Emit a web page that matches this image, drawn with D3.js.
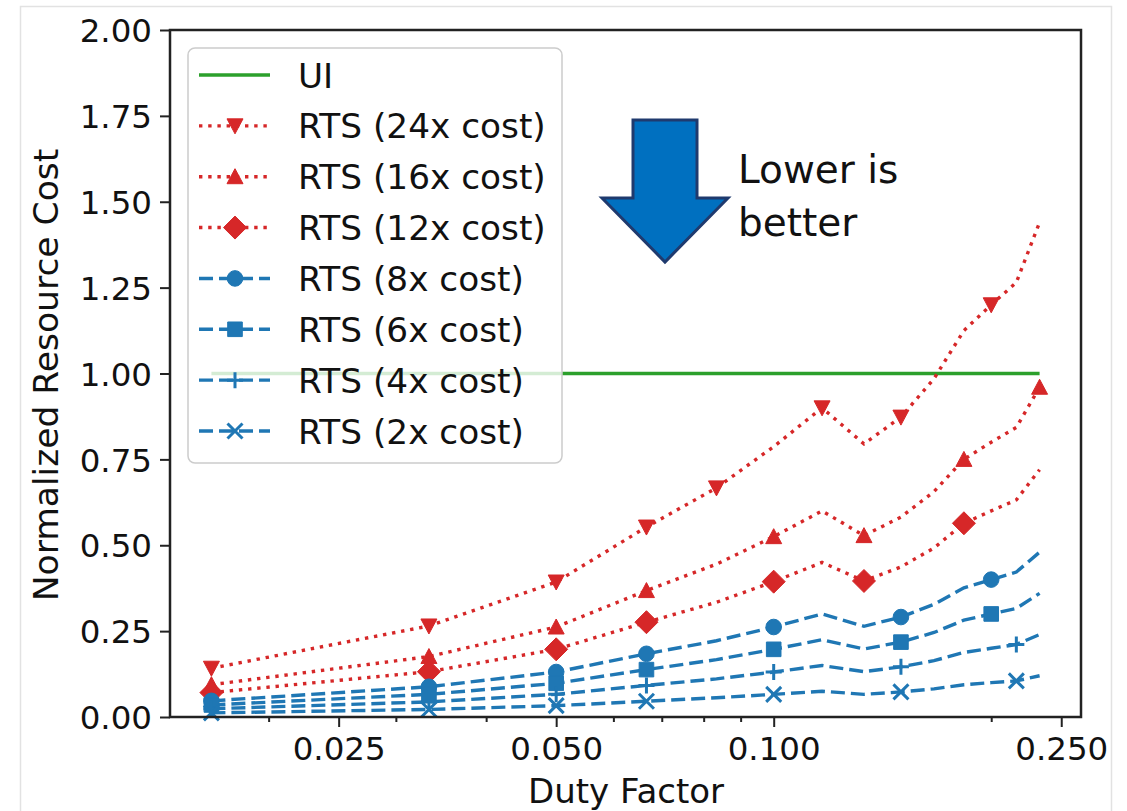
<!DOCTYPE html>
<html>
<head>
<meta charset="utf-8">
<script src="https://cdn.jsdelivr.net/npm/d3@7"></script>
<style>
  html, body { margin: 0; padding: 0; background: #ffffff; }
  svg { display: block; }
  text { font-family: "DejaVu Sans", sans-serif; fill: #111; }
</style>
</head>
<body>
<svg id="chart" width="1127" height="811"></svg>
<script>
// Duty factors sampled (k/60 for k = 1..14)
const dutyFactor = [1/60, 2/60, 3/60, 4/60, 5/60, 6/60, 7/60, 8/60, 9/60, 10/60, 11/60, 12/60, 13/60, 14/60];

// Normalized resource cost per configuration
const ui      = [1, 1, 1, 1, 1, 1, 1, 1, 1, 1, 1, 1, 1, 1];
const rts24x  = [0.142, 0.265, 0.393, 0.553, 0.667, 0.787, 0.900, 0.795, 0.873, 0.985, 1.125, 1.200, 1.265, 1.440];
const rts16x  = [0.094, 0.176, 0.262, 0.368, 0.445, 0.525, 0.600, 0.528, 0.582, 0.656, 0.750, 0.800, 0.843, 0.960];
const rts12x  = [0.071, 0.132, 0.197, 0.276, 0.334, 0.394, 0.450, 0.396, 0.437, 0.492, 0.564, 0.600, 0.632, 0.720];
const rts8x   = [0.047, 0.088, 0.131, 0.184, 0.222, 0.262, 0.300, 0.264, 0.291, 0.328, 0.376, 0.400, 0.422, 0.480];
const rts6x   = [0.035, 0.066, 0.098, 0.138, 0.167, 0.197, 0.225, 0.198, 0.218, 0.246, 0.282, 0.300, 0.316, 0.360];
const rts4x   = [0.024, 0.044, 0.066, 0.092, 0.111, 0.131, 0.150, 0.132, 0.146, 0.164, 0.188, 0.200, 0.211, 0.240];
const rts2x   = [0.012, 0.022, 0.033, 0.046, 0.056, 0.066, 0.075, 0.066, 0.073, 0.082, 0.094, 0.100, 0.105, 0.120];

// Indices of points that carry a marker
const marks24x = [0, 1, 2, 3, 4, 6, 8, 11];
const marks16x = [0, 1, 2, 3, 5, 7, 10, 13];
const marks12x = [0, 1, 2, 3, 5, 7, 10];
const marks8x  = [0, 1, 2, 3, 5, 8, 11];
const marks6x  = [0, 1, 2, 3, 5, 8, 11];
const marks4x  = [0, 1, 2, 3, 5, 8, 12];
const marks2x  = [0, 1, 2, 3, 5, 8, 12];

const seriesNames = ["UI", "RTS (24x cost)", "RTS (16x cost)", "RTS (12x cost)", "RTS (8x cost)", "RTS (6x cost)", "RTS (4x cost)", "RTS (2x cost)"];

// Axis ticks
const xTickValues = [0.025, 0.05, 0.1, 0.25];
const xTickLabels = ["0.025", "0.050", "0.100", "0.250"];
const xMinorTicks = [0.02, 0.03, 0.04, 0.06, 0.07, 0.08, 0.09, 0.2];
const yTickValues = [0, 0.25, 0.5, 0.75, 1.0, 1.25, 1.5, 1.75, 2.0];

const RED = "#d62728", BLUE = "#1f77b4", GREEN = "#2ca02c";
const DOT = "3.4,5.8", DASH = "14,6";

const series = [
  { name: seriesNames[0], values: ui,     marks: [],       color: GREEN, dash: null, marker: null },
  { name: seriesNames[1], values: rts24x, marks: marks24x, color: RED,   dash: DOT,  marker: "tridown" },
  { name: seriesNames[2], values: rts16x, marks: marks16x, color: RED,   dash: DOT,  marker: "triup" },
  { name: seriesNames[3], values: rts12x, marks: marks12x, color: RED,   dash: DOT,  marker: "diamond" },
  { name: seriesNames[4], values: rts8x,  marks: marks8x,  color: BLUE,  dash: DASH, marker: "circle" },
  { name: seriesNames[5], values: rts6x,  marks: marks6x,  color: BLUE,  dash: DASH, marker: "square" },
  { name: seriesNames[6], values: rts4x,  marks: marks4x,  color: BLUE,  dash: DASH, marker: "plus" },
  { name: seriesNames[7], values: rts2x,  marks: marks2x,  color: BLUE,  dash: DASH, marker: "cross" }
];

const svg = d3.select("#chart");

// Light outer frame
svg.append("rect").attr("x", 20.5).attr("y", 6.5).attr("width", 1091).attr("height", 820)
  .attr("fill", "none").attr("stroke", "#e2e2e2").attr("stroke-width", 1.5);

const plot = { left: 170, right: 1081, top: 30, bottom: 717 };

// Log x-domain padded by 5% on each side in log space
const lx0 = Math.log10(d3.min(dutyFactor)), lx1 = Math.log10(d3.max(dutyFactor));
const pad = (lx1 - lx0) * 0.05;
const x = d3.scaleLog().domain([Math.pow(10, lx0 - pad), Math.pow(10, lx1 + pad)]).range([plot.left, plot.right]);
const y = d3.scaleLinear().domain([0, 2]).range([plot.bottom, plot.top]);

// Marker shapes
function markerPath(type) {
  switch (type) {
    case "tridown": return "M-8,-7L8,-7L0,8Z";
    case "triup":   return "M-8,7L8,7L0,-8Z";
    case "diamond": return "M0,-11.5L11.5,0L0,11.5L-11.5,0Z";
    case "circle":  return d3.symbol(d3.symbolCircle, Math.PI * 7.8 * 7.8)();
    case "square":  return "M-7.3,-7.3L7.3,-7.3L7.3,7.3L-7.3,7.3Z";
    case "plus":    return "M-8,0L8,0M0,-8L0,8";
    case "cross":   return "M-7.5,-7.5L7.5,7.5M-7.5,7.5L7.5,-7.5";
  }
  return "";
}
function drawMarker(g, type, color, cx, cy) {
  const stroked = (type === "plus" || type === "cross");
  g.append("path").attr("d", markerPath(type))
    .attr("transform", `translate(${cx},${cy})`)
    .attr("fill", stroked ? "none" : color)
    .attr("stroke", color)
    .attr("stroke-width", stroked ? 3 : 1);
}

// Series lines and markers
const line = d3.line().x((d, i) => x(dutyFactor[i])).y(d => y(d));
const gData = svg.append("g");
series.forEach(s => {
  gData.append("path").datum(s.values)
    .attr("d", line)
    .attr("fill", "none")
    .attr("stroke", s.color)
    .attr("stroke-width", 3.4)
    .attr("stroke-dasharray", s.dash);
  if (s.marker) {
    s.marks.forEach(i => drawMarker(gData, s.marker, s.color, x(dutyFactor[i]), y(s.values[i])));
  }
});

// Axes
const gx = svg.append("g").attr("transform", `translate(0,${plot.bottom})`);
gx.call(d3.axisBottom(x).tickValues(xTickValues).tickFormat((d, i) => xTickLabels[i]).tickSize(10).tickPadding(8));
const gxm = svg.append("g").attr("transform", `translate(0,${plot.bottom})`);
gxm.call(d3.axisBottom(x).tickValues(xMinorTicks).tickFormat("").tickSize(5));

const gy = svg.append("g").attr("transform", `translate(${plot.left},0)`);
gy.call(d3.axisLeft(y).tickValues(yTickValues).tickFormat(d3.format(".2f")).tickSize(10).tickPadding(8));

[gx, gxm, gy].forEach(g => {
  g.select(".domain").remove();
  g.selectAll(".tick line").attr("stroke", "#222").attr("stroke-width", 2);
  g.selectAll(".tick text").attr("font-family", "DejaVu Sans").attr("font-size", 32.5).attr("fill", "#111");
});
gx.selectAll(".tick text").attr("dy", "0.78em");
gy.selectAll(".tick text").attr("dy", "0.36em");

// Plot frame
svg.append("rect").attr("x", plot.left).attr("y", plot.top)
  .attr("width", plot.right - plot.left).attr("height", plot.bottom - plot.top)
  .attr("fill", "none").attr("stroke", "#222").attr("stroke-width", 2.5);

// Axis titles
svg.append("text").attr("x", 626).attr("y", 803).attr("text-anchor", "middle")
  .attr("font-size", 34).text("Duty Factor");
svg.append("text").attr("transform", "translate(58,375) rotate(-90)").attr("text-anchor", "middle")
  .attr("font-size", 34.5).text("Normalized Resource Cost");

// Legend
const lg = svg.append("g");
lg.append("rect").attr("x", 188).attr("y", 48).attr("width", 374).attr("height", 415).attr("rx", 7)
  .attr("fill", "#ffffff").attr("fill-opacity", 0.8).attr("stroke", "#cccccc").attr("stroke-width", 1.5);
const rowY = d3.scaleLinear().domain([0, series.length - 1]).range([75, 431]);
series.forEach((s, i) => {
  const cy = rowY(i);
  lg.append("line").attr("x1", 199).attr("x2", 270).attr("y1", cy).attr("y2", cy)
    .attr("stroke", s.color).attr("stroke-width", 3.4).attr("stroke-dasharray", s.dash);
  if (s.marker) drawMarker(lg, s.marker, s.color, 235, cy);
  lg.append("text").attr("x", 298).attr("y", cy + 12.5).attr("font-size", 34.3).text(s.name);
});

// Annotation arrow and note
const arrow = [[633,120],[697,120],[697,198],[728,198],[665,262],[602,198],[633,198]];
svg.append("path").attr("d", d3.line()(arrow) + "Z")
  .attr("fill", "#0070c0").attr("stroke", "#1f3a6e").attr("stroke-width", 3).attr("stroke-linejoin", "miter");
const note = svg.append("text").attr("font-family", "Lato, 'Open Sans', sans-serif").attr("font-size", 39).attr("fill", "#000");
note.append("tspan").attr("x", 738).attr("y", 183).text("Lower is");
note.append("tspan").attr("x", 738).attr("y", 236).text("better");
</script>
</body>
</html>
